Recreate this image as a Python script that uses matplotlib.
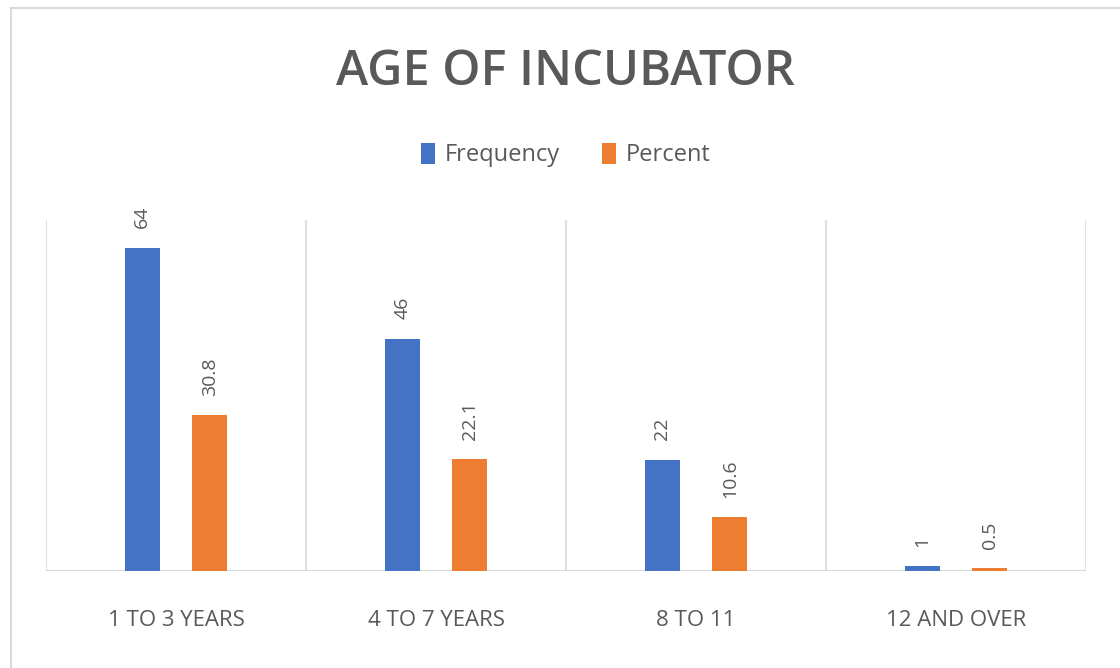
import numpy as np
import matplotlib.pyplot as plt
from matplotlib.lines import Line2D

categories = ["1 TO 3 YEARS", "4 TO 7 YEARS", "8 TO 11", "12 AND OVER"]
frequency = [64, 46, 22, 1]
percent = [30.8, 22.1, 10.6, 0.5]
freq_labels = ["64", "46", "22", "1"]
pct_labels = ["30.8", "22.1", "10.6", "0.5"]

BLUE = "#4472C4"
ORANGE = "#ED7D31"
GRAY = "#595959"
GRID = "#D9D9D9"

plt.rcParams['font.family'] = ['Open Sans', 'DejaVu Sans']

fig = plt.figure(figsize=(11.2, 6.68), dpi=100)
# chart border: only left and top edges show
bx = 10.5 / 1120
by = 1 - 7.5 / 668
fig.lines.append(Line2D([bx, bx], [0, by], transform=fig.transFigure, color=GRID, linewidth=1.5))
fig.lines.append(Line2D([bx, 1], [by, by], transform=fig.transFigure, color=GRID, linewidth=1.5))

ax = fig.add_axes([46 / 1120, (668 - 571) / 668, 1040 / 1120, 351 / 668])

x = np.arange(len(categories))
w = 0.135
off = 0.13
b1 = ax.bar(x - off, frequency, w, color=BLUE, label="Frequency", zorder=3)
b2 = ax.bar(x + off, percent, w, color=ORANGE, label="Percent", zorder=3)

for bars, labels in [(b1, freq_labels), (b2, pct_labels)]:
    for r, t in zip(bars, labels):
        ax.annotate(t, (r.get_x() + r.get_width() / 2, r.get_height()),
                    xytext=(0, 14), textcoords="offset points", rotation=90,
                    ha="center", va="bottom", fontsize=14, color=GRAY)

ax.set_xlim(-0.5, len(categories) - 0.5)
ax.set_ylim(0, 69.5)
for b in np.arange(-0.5, len(categories), 1.0):
    ax.axvline(b, color=GRID, linewidth=1.2, zorder=1)
ax.axhline(0, color=GRID, linewidth=1.5, zorder=2)

ax.set_xticks(x)
ax.set_xticklabels(categories, fontsize=16, color=GRAY)
ax.tick_params(axis="x", length=0, pad=28)
ax.set_yticks([])
for s in ax.spines.values():
    s.set_visible(False)

fig.text(0.505, 0.892, "AGE OF INCUBATOR", ha="center", va="center",
         fontsize=35, fontweight="semibold", color=GRAY)

fig.legend(loc="center", bbox_to_anchor=(0.505, 0.768), ncol=2, frameon=False,
           fontsize=17, labelcolor=GRAY, handlelength=0.6, handleheight=1.0,
           handletextpad=0.4, columnspacing=1.8)

fig.savefig("out.png", dpi=100)
